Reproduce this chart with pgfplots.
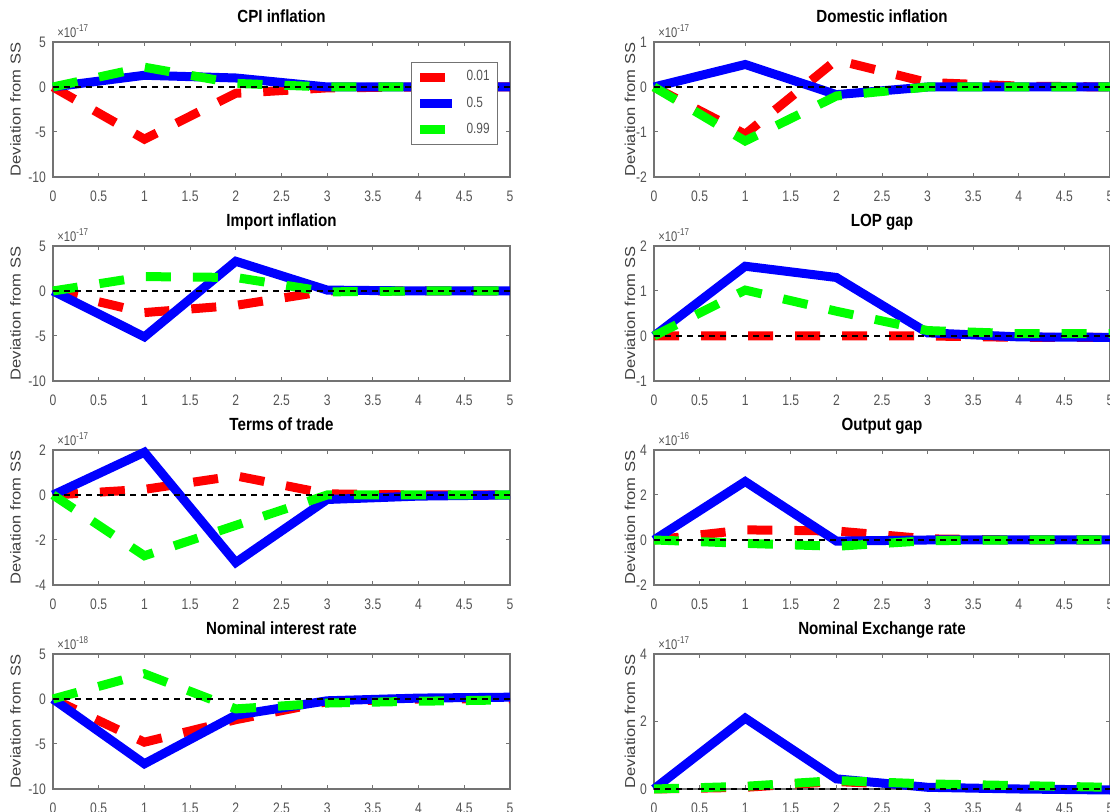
\documentclass[border=0pt]{standalone}
\usepackage{fontspec}
\setmainfont{Liberation Sans}[FakeStretch=0.86]
\newfontfamily\ylfont{Liberation Sans}[FakeStretch=1.15]
\newfontfamily\tkfont{Liberation Sans}[FakeStretch=0.8]
\usepackage{pgfplots}
\pgfplotsset{compat=1.18}
\definecolor{axgray}{gray}{0.45}
\definecolor{tickgray}{gray}{0.33}
\pgfplotsset{
  irf/.style={
    scale only axis, height=67.5pt, anchor=south west,
    xmin=0, xmax=5, xtick={0,0.5,1,1.5,2,2.5,3,3.5,4,4.5,5},
    clip=false,
    /pgf/number format/assume math mode=true,
    tick label style={font=\tkfont\fontsize{7.6}{8}\selectfont, text=tickgray},
    xticklabel style={yshift=-3.5pt},
    axis line style={draw=axgray, line width=0.6pt},
    major tick length=2.2pt,
    tick style={draw=axgray, line width=0.5pt},
    tick align=inside,
    scaled y ticks=false,
    ylabel={Deviation from SS},
    ylabel style={font=\ylfont\fontsize{7.2}{9}\selectfont, text=black!75, anchor=center},
    title style={at={(0.5,1)}, anchor=base, yshift=3.5pt, font=\fontsize{8.8}{10}\selectfont\bfseries},
  },
  leftcol/.style={irf, width=228.5pt, ylabel style={at={(axis description cs:-0.082,0.5)}}},
  rightcol/.style={irf, width=228pt, ylabel style={at={(axis description cs:-0.0526,0.5)}}},
  lred/.style={color=red, line width=4.5pt, dash pattern=on 12.5pt off 11pt},
  lblue/.style={color=blue, line width=4.5pt, solid},
  lgreen/.style={color=green, line width=4.5pt, dash pattern=on 12.5pt off 11pt},
  lzero/.style={black, line width=0.6pt, dash pattern=on 3pt off 2.5pt, forget plot},
}
\newcommand{\expo}[1]{\node[anchor=base west, font=\tkfont\fontsize{7}{7}\selectfont, text=tickgray, inner sep=0pt, xshift=2pt, yshift=2pt] at (rel axis cs:0,1) {×10\textsuperscript{#1}};}
\begin{document}
\begin{tikzpicture}
% ---------- Row 1 left: CPI inflation ----------
\begin{axis}[leftcol, at={(26.5pt,317.5pt)}, title={CPI inflation},
  ymin=-10, ymax=5, ytick={-10,-5,0,5},
  legend style={at={(0.974,0.852)}, anchor=north east, draw=axgray, line width=0.5pt, fill=white,
    font=\tkfont\fontsize{7.4}{8}\selectfont, text=tickgray, inner xsep=2pt, inner ysep=2pt, row sep=2.5pt,
    /tikz/every odd column/.append style={column sep=3pt}},
  legend cell align=left,
  legend image code/.code={\draw[#1] (0pt,0pt) -- (16pt,0pt);}]
\addplot[lred] coordinates {(0,0)(1,-5.8)(2,-0.7)(3,-0.1)(4,0)(5,0)};
\addlegendentry{0.01}
\addplot[lblue] coordinates {(0,0)(1,1.3)(2,1.0)(3,0)(4,0)(5,0)};
\addlegendentry{0.5}
\addplot[lgreen] coordinates {(0,0)(1,2.2)(2,0.4)(3,0)(4,0)(5,0)};
\addlegendentry{0.99}
\addplot[lzero] coordinates {(0,0)(5,0)};
\expo{-17}
\end{axis}
% ---------- Row 1 right: Domestic inflation ----------
\begin{axis}[rightcol, at={(327pt,317.5pt)}, title={Domestic inflation},
  ymin=-2, ymax=1, ytick={-2,-1,0,1}]
\addplot[lred] coordinates {(0,0)(1,-1.05)(2,0.6)(3,0.1)(4,0.02)(5,0)};
\addplot[lblue] coordinates {(0,0)(1,0.5)(2,-0.17)(3,0)(4,0)(5,0)};
\addplot[lgreen] coordinates {(0,0)(1,-1.2)(2,-0.2)(3,0)(4,0)(5,0)};
\addplot[lzero] coordinates {(0,0)(5,0)};
\expo{-17}
\end{axis}
% ---------- Row 2 left: Import inflation ----------
\begin{axis}[leftcol, at={(26.5pt,215.5pt)}, title={Import inflation},
  ymin=-10, ymax=5, ytick={-10,-5,0,5}]
\addplot[lred] coordinates {(0,0)(1,-2.4)(2,-1.6)(3,0)(4,0)(5,0)};
\addplot[lblue] coordinates {(0,0)(1,-5.1)(2,3.3)(3,0.1)(4,0)(5,0)};
\addplot[lgreen] coordinates {(0,0)(1,1.6)(2,1.5)(3,-0.1)(4,0)(5,0)};
\addplot[lzero] coordinates {(0,0)(5,0)};
\expo{-17}
\end{axis}
% ---------- Row 2 right: LOP gap ----------
\begin{axis}[rightcol, at={(327pt,215.5pt)}, title={LOP gap},
  ymin=-1, ymax=2, ytick={-1,0,1,2}]
\addplot[lred] coordinates {(0,0)(1,0)(2,0)(3,0)(4,-0.03)(5,-0.03)};
\addplot[lblue] coordinates {(0,0)(1,1.55)(2,1.3)(3,0.07)(4,-0.02)(5,-0.03)};
\addplot[lgreen] coordinates {(0,0)(1,1.02)(2,0.55)(3,0.12)(4,0.05)(5,0.05)};
\addplot[lzero] coordinates {(0,0)(5,0)};
\expo{-17}
\end{axis}
% ---------- Row 3 left: Terms of trade ----------
\begin{axis}[leftcol, at={(26.5pt,113.5pt)}, title={Terms of trade},
  ymin=-4, ymax=2, ytick={-4,-2,0,2}]
\addplot[lred] coordinates {(0,0)(1,0.25)(2,0.85)(3,0.05)(4,0)(5,0)};
\addplot[lblue] coordinates {(0,0)(1,1.9)(2,-3.0)(3,-0.2)(4,-0.05)(5,0)};
\addplot[lgreen] coordinates {(0,0)(1,-2.7)(2,-1.35)(3,0)(4,0)(5,0)};
\addplot[lzero] coordinates {(0,0)(5,0)};
\expo{-17}
\end{axis}
% ---------- Row 3 right: Output gap ----------
\begin{axis}[rightcol, at={(327pt,113.5pt)}, title={Output gap},
  ymin=-2, ymax=4, ytick={-2,0,2,4}]
\addplot[lred] coordinates {(0,0)(1,0.45)(2,0.4)(3,0.05)(4,0)(5,0)};
\addplot[lblue] coordinates {(0,0)(1,2.6)(2,-0.05)(3,0)(4,0)(5,0)};
\addplot[lgreen] coordinates {(0,0)(1,-0.15)(2,-0.28)(3,-0.03)(4,0)(5,0)};
\addplot[lzero] coordinates {(0,0)(5,0)};
\expo{-16}
\end{axis}
% ---------- Row 4 left: Nominal interest rate ----------
\begin{axis}[leftcol, at={(26.5pt,11.5pt)}, title={Nominal interest rate},
  ymin=-10, ymax=5, ytick={-10,-5,0,5}]
\addplot[lred] coordinates {(0,0)(1,-4.8)(2,-2.3)(3,-0.3)(4,0)(5,0)};
\addplot[lblue] coordinates {(0,0)(1,-7.2)(2,-1.8)(3,-0.2)(4,0.1)(5,0.2)};
\addplot[lgreen] coordinates {(0,0)(1,2.8)(2,-1.1)(3,-0.45)(4,-0.25)(5,-0.1)};
\addplot[lzero] coordinates {(0,0)(5,0)};
\expo{-18}
\end{axis}
% ---------- Row 4 right: Nominal Exchange rate ----------
\begin{axis}[rightcol, at={(327pt,11.5pt)}, title={Nominal Exchange rate},
  ymin=0, ymax=4, ytick={0,2,4}]
\addplot[lred] coordinates {(0,0)(1,0.05)(2,0.22)(3,0.1)(4,0.05)(5,0.02)};
\addplot[lblue] coordinates {(0,0)(1,2.1)(2,0.3)(3,0.05)(4,0)(5,-0.03)};
\addplot[lgreen] coordinates {(0,0)(1,0.08)(2,0.25)(3,0.15)(4,0.1)(5,0.05)};
\addplot[lzero] coordinates {(0,0)(5,0)};
\expo{-17}
\end{axis}
\pgfresetboundingbox
\useasboundingbox (0,0) rectangle (555pt,406pt);
\end{tikzpicture}
\end{document}
